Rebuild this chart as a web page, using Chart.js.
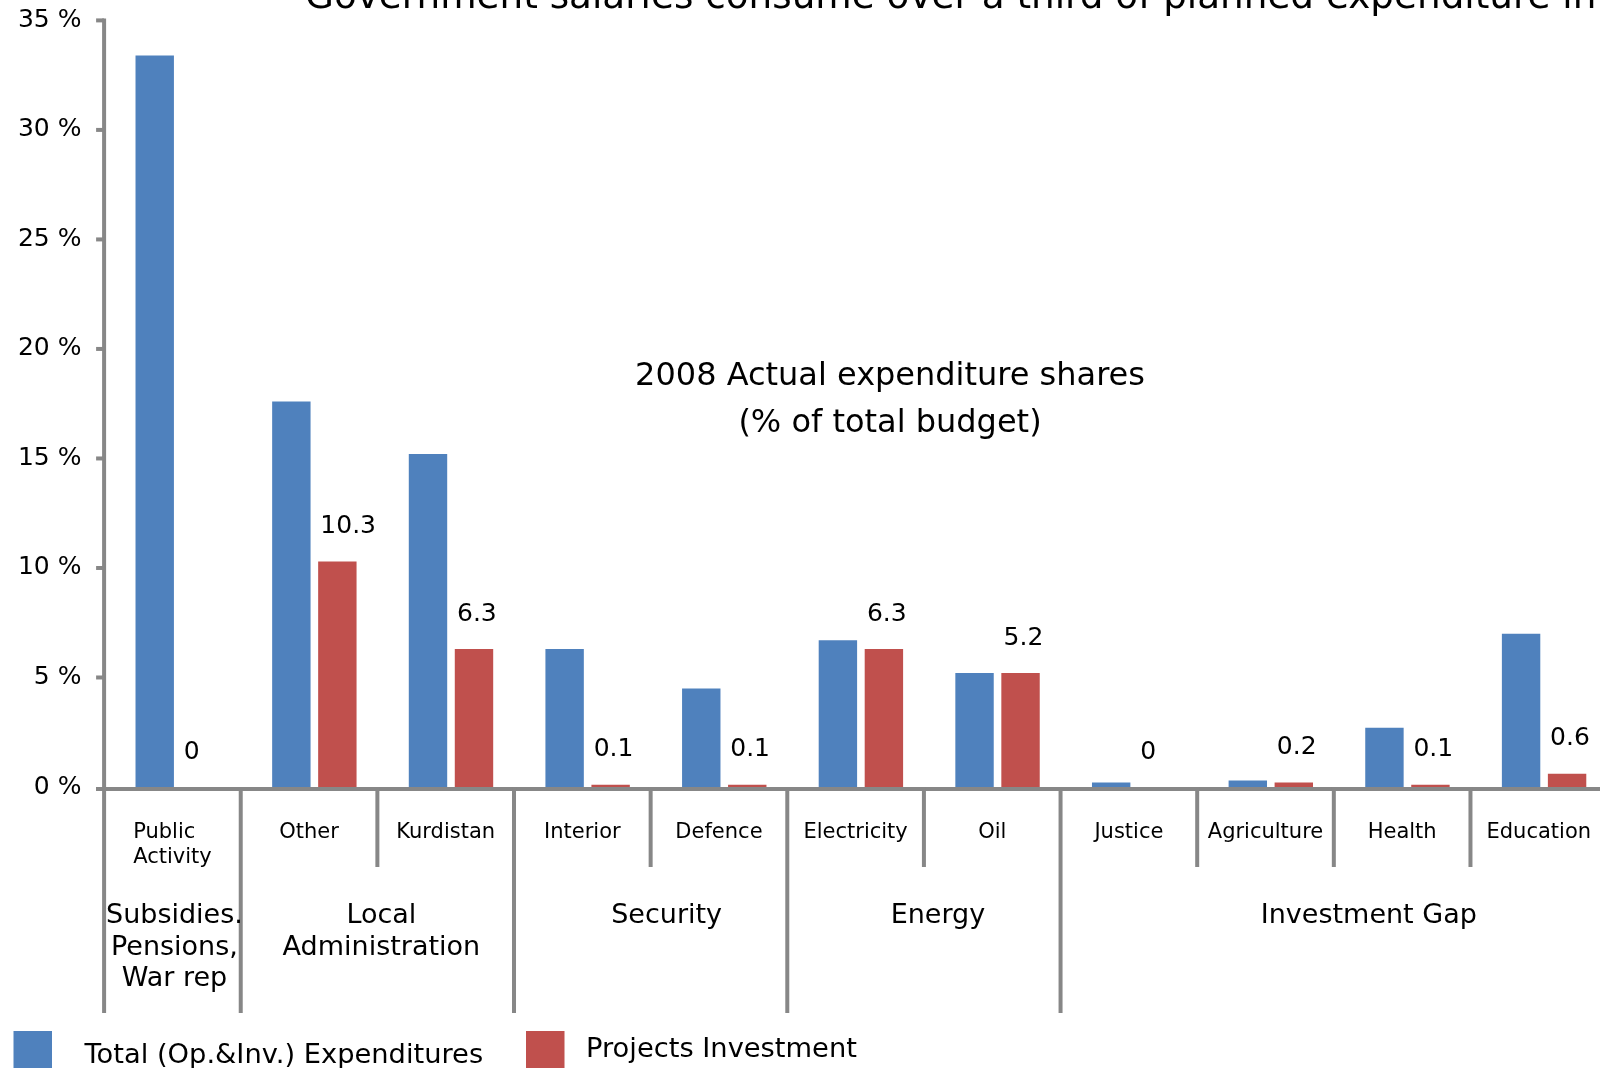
<!DOCTYPE html>
<html>
<head>
<meta charset="utf-8">
<script src="https://cdn.jsdelivr.net/npm/chart.js@4.4.1/dist/chart.umd.min.js"></script>
<style>
  html, body { margin: 0; padding: 0; background: #fff; overflow: hidden; }
  canvas { display: block; }
</style>
</head>
<body>
<canvas id="budgetChart" width="1620" height="1068"></canvas>
<script>
// data (% of total budget, 2008 actual)
const categories = [['Public', 'Activity'], 'Other', 'Kurdistan', 'Interior', 'Defence',
  'Electricity', 'Oil', 'Justice', 'Agriculture', 'Health', 'Education'];
const totalExpenditure = [33.4, 17.6, 15.2, 6.3, 4.5, 6.7, 5.2, 0.2, 0.3, 2.7, 7.0];
const projectsInvestment = [0, 10.3, 6.3, 0.1, 0.1, 6.3, 5.2, 0, 0.2, 0.1, 0.6];
const groupLabels = [['Subsidies.', 'Pensions,', 'War rep'], ['Local', 'Administration'],
  ['Security'], ['Energy'], ['Investment Gap']];
const groupSpans = [1, 2, 2, 2, 4];
const yTicks = [0, 5, 10, 15, 20, 25, 30, 35];
const seriesNames = ['Total (Op.&Inv.) Expenditures', 'Projects Investment'];

const titleText = 'Government salaries consume over a third of planned expenditure in';
const noteLines = ['2008 Actual expenditure shares', '(% of total budget)'];

const FONT = '"DejaVu Sans", Verdana, sans-serif';
const GRAY = '#878787';
const BLUE = '#4F81BD';
const RED = '#C0504D';
const barShift = 5.3; // Excel put the bar pairs a bit right of the category centre
const groupNudge = [2, 4, 16, 14, 35]; // excel didn't centre the group captions exactly

function fitSize(ctx, text, width) {
  ctx.font = '100px ' + FONT;
  return 100 * width / ctx.measureText(text).width;
}

const drawFrame = {
  id: 'drawFrame',
  afterDatasetsDraw(chart) {
    const { ctx, scales: { x, y } } = chart;
    const catW = x.getPixelForValue(1) - x.getPixelForValue(0);
    const x0 = x.getPixelForValue(0) - catW / 2 - barShift;
    const y0 = y.getPixelForValue(0);

    const line = (ax, ay, bx, by) => {
      ctx.beginPath(); ctx.moveTo(ax, ay); ctx.lineTo(bx, by); ctx.stroke();
    };

    ctx.save();
    ctx.strokeStyle = GRAY;
    ctx.lineWidth = 4;
    ctx.lineCap = 'butt';

    // y axis + tick marks
    line(x0, y.getPixelForValue(35) - 2, x0, y0 + 4);
    yTicks.forEach(v => {
      const py = v === 0 ? y0 + 2 : y.getPixelForValue(v);
      line(x0 - 8, py, x0, py);
    });
    // x axis
    line(x0 - 8, y0 + 2, chart.width, y0 + 2);

    // separators: long at group edges, short between categories
    const groupEdges = [0];
    groupSpans.forEach(s => groupEdges.push(groupEdges[groupEdges.length - 1] + s));
    for (let k = 0; k <= categories.length; k++) {
      const px = x0 + k * catW;
      const long = groupEdges.includes(k);
      line(px, y0, px, long ? 1013 : 867);
    }

    // category labels (left aligned block, centred in category)
    ctx.fillStyle = '#000';
    ctx.font = '21px ' + FONT;
    ctx.textBaseline = 'middle';
    ctx.textAlign = 'left';
    categories.forEach((c, i) => {
      const rows = Array.isArray(c) ? c : [c];
      const w = Math.max(...rows.map(r => ctx.measureText(r).width));
      const cx = x0 + (i + 0.5) * catW;
      rows.forEach((r, j) => ctx.fillText(r, cx - w / 2, 833 + j * 25));
    });

    // group labels
    ctx.font = '27px ' + FONT;
    ctx.textAlign = 'center';
    groupLabels.forEach((g, i) => {
      const cx = x0 + (groupEdges[i] + groupEdges[i + 1]) / 2 * catW + groupNudge[i];
      g.forEach((r, j) => ctx.fillText(r, cx, 916 + j * 31.5));
    });

    // value labels on the projects series
    ctx.font = '25px ' + FONT;
    ctx.textAlign = 'left';
    ctx.textBaseline = 'alphabetic';
    chart.getDatasetMeta(1).data.forEach((bar, i) => {
      ctx.fillText(String(projectsInvestment[i]), bar.x - 17, bar.y - 28.5);
    });

    // title, cut off at the top like the original
    ctx.font = fitSize(ctx, titleText, 1292).toFixed(2) + 'px ' + FONT;
    ctx.fillText(titleText, 305, 7.5);

    // note in the middle of the plot
    ctx.font = fitSize(ctx, noteLines[0], 510).toFixed(2) + 'px ' + FONT;
    ctx.textAlign = 'center';
    ctx.textBaseline = 'middle';
    ctx.fillText(noteLines[0], 890, 376.5);
    ctx.fillText(noteLines[1], 890, 423.5);

    // legend
    ctx.font = '27.3px ' + FONT;
    ctx.textAlign = 'left';
    ctx.textBaseline = 'alphabetic';
    ctx.fillStyle = BLUE;
    ctx.fillRect(13.5, 1031, 38.5, 39);
    ctx.fillStyle = RED;
    ctx.fillRect(526, 1031, 38.5, 39);
    ctx.fillStyle = '#000';
    ctx.fillText(seriesNames[0], 84.5, 1063);
    ctx.fillText(seriesNames[1], 586, 1057);

    ctx.restore();
  }
};

new Chart(document.getElementById('budgetChart'), {
  type: 'bar',
  data: {
    labels: categories,
    datasets: [
      { label: seriesNames[0], data: totalExpenditure, backgroundColor: BLUE, borderWidth: 0 },
      { label: seriesNames[1], data: projectsInvestment, backgroundColor: RED, borderWidth: 0 }
    ]
  },
  options: {
    responsive: false,
    animation: false,
    devicePixelRatio: 1,
    categoryPercentage: 0.6733,
    barPercentage: 0.835,
    layout: { padding: { left: 0, top: 20.4, right: 7.6, bottom: 0 } },
    plugins: { legend: { display: false }, tooltip: { enabled: false }, title: { display: false } },
    scales: {
      x: {
        grid: { display: false },
        border: { display: false },
        ticks: { display: false },
        afterFit: scale => { scale.height = 1068 - 787; }
      },
      y: {
        min: 0,
        max: 35,
        grid: { display: false, drawTicks: false },
        border: { display: false },
        ticks: {
          stepSize: 5,
          padding: 28,
          color: '#000',
          font: { family: FONT, size: 25 },
          callback: v => v + ' %'
        },
        afterFit: scale => {
          scale.width = 109.4;
          scale.paddingTop = 0;
          scale.paddingBottom = 0;
        }
      }
    }
  },
  plugins: [drawFrame]
});
</script>
</body>
</html>
